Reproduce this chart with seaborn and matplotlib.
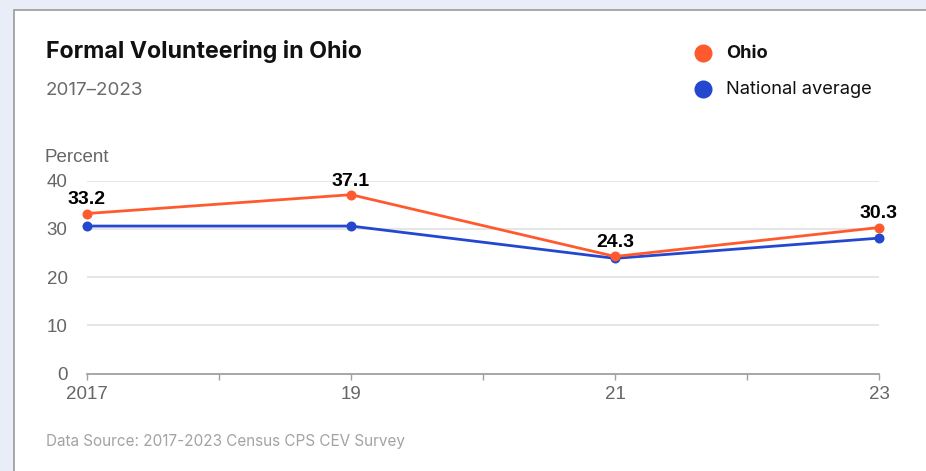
import matplotlib
matplotlib.use("Agg")
import matplotlib.pyplot as plt
from matplotlib.patches import Rectangle
from matplotlib.lines import Line2D
import pandas as pd
import seaborn as sns

# Survey years and formal volunteering rates (percent)
years = [2017, 2019, 2021, 2023]
ohio = [33.2, 37.1, 24.3, 30.3]
national = [30.6, 30.6, 23.9, 28.1]
series_names = ["National average", "Ohio"]
tick_years = [2017, 2018, 2019, 2020, 2021, 2022, 2023]
tick_labels = ["2017", "", "19", "", "21", "", "23"]
y_ticks = [0, 10, 20, 30, 40]

ORANGE = "#FF5A2E"
BLUE = "#2348CF"

df = pd.DataFrame({
    "year": years * 2,
    "value": national + ohio,
    "series": [series_names[0]] * len(years) + [series_names[1]] * len(years),
})

sns.set_theme(style="white")
plt.rcParams["font.family"] = ["Liberation Sans", "DejaVu Sans"]

W, H = 926, 471
fig = plt.figure(figsize=(W / 100, H / 100), dpi=100)
fig.patch.set_facecolor("#E8EDF8")


def fx(px):
    return px / W


def fy(py):
    return 1 - py / H


# White card with a thin grey border
fig.patches.append(Rectangle((fx(14), -0.2), 1.2, fy(10) + 0.2, transform=fig.transFigure,
                             facecolor="white", edgecolor="#9A9A9A", linewidth=1.2,
                             zorder=-10))

ax = fig.add_axes([fx(87), fy(373.7), fx(879) - fx(87), fy(180.7) - fy(373.7)])
ax.set_facecolor("none")

sns.lineplot(data=df, x="year", y="value", hue="series",
             palette={series_names[0]: BLUE, series_names[1]: ORANGE},
             marker="o", markersize=7.2, markeredgewidth=0, linewidth=2.0,
             legend=False, ax=ax, zorder=3)
for ln in ax.lines:
    ln.set_clip_on(False)

ax.set_xlim(2017, 2023)
ax.set_ylim(0, 40)
ax.set_yticks(y_ticks)
ax.set_xticks(tick_years)
ax.set_xticklabels(tick_labels)
ax.set_xlabel("")
ax.set_ylabel("")

for v in y_ticks[1:]:
    ax.axhline(v, color="#E6E6E6", linewidth=1.4, zorder=1)

for s in ["top", "right", "left"]:
    ax.spines[s].set_visible(False)
ax.spines["bottom"].set_color("#A0A0A0")
ax.spines["bottom"].set_linewidth(1.3)
ax.spines["bottom"].set_zorder(2)

ax.tick_params(axis="x", length=4.5, width=1, color="#A0A0A0", pad=4,
               labelsize=13.5, labelcolor="#666666", bottom=True)
ax.tick_params(axis="y", length=0, pad=14, labelsize=13.5, labelcolor="#666666")

# Value labels above the Ohio points
for x, v in zip(years, ohio):
    ax.annotate(f"{v:.1f}", (x, v), xytext=(0, 6.5), textcoords="offset points",
                ha="center", va="baseline", fontsize=14, fontweight="bold",
                color="black", zorder=5)

# Titles
fig.text(fx(46), fy(58), "Formal Volunteering in Ohio", family=["Inter", "DejaVu Sans"],
         fontsize=16.7, fontweight="bold", color="#111111", va="baseline")
fig.text(fx(46), fy(95), "2017–2023", family=["Inter", "DejaVu Sans"],
         fontsize=13.5, color="#6A6A6A", va="baseline")
fig.text(fx(44), fy(161.5), "Percent", fontsize=13.5, color="#666666", va="baseline")
fig.text(fx(46), fy(446), "Data Source: 2017-2023 Census CPS CEV Survey",
         family=["Inter", "DejaVu Sans"], fontsize=11, color="#A3A3A3", va="baseline")

# Legend
for py, label, color, weight in [(53, "Ohio", ORANGE, "bold"),
                                 (89, "National average", BLUE, "normal")]:
    fig.add_artist(Line2D([fx(703)], [fy(py)], marker="o", markersize=13,
                          markeredgewidth=0, color=color, transform=fig.transFigure))
    fig.text(fx(726), fy(py), label, family=["Inter", "DejaVu Sans"], fontsize=13.2,
             fontweight=weight, color="#111111", va="center")

fig.savefig("out.png", dpi=100, facecolor=fig.get_facecolor())
